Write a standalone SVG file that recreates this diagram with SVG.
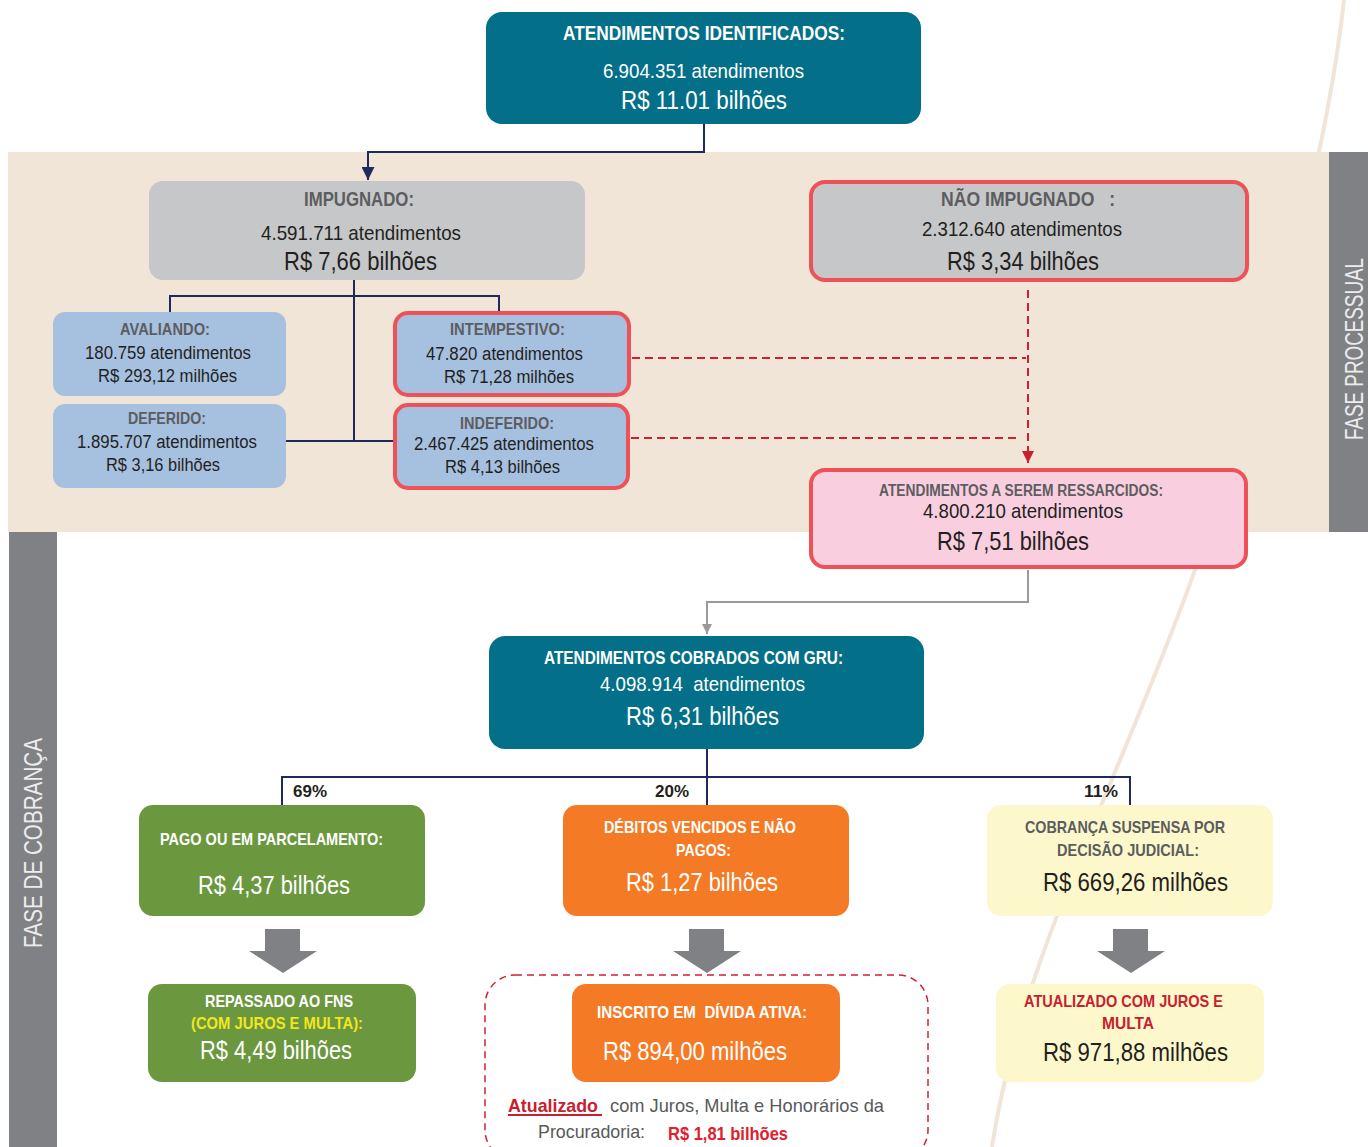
<svg xmlns="http://www.w3.org/2000/svg" width="1368" height="1147" viewBox="0 0 1368 1147">
<defs>
<style>
text{font-family:"Liberation Sans Narrow","Liberation Sans",Arial,sans-serif;}
.b{font-weight:bold;}
.w{fill:#ffffff;}
.g{fill:#5d5d5f;}
.k{fill:#231f20;}
.r{fill:#c8202f;}
.pre{white-space:pre;}
.teal{fill:#036f88;}
.gray{fill:#c6c7c9;}
.blue{fill:#a6c0e0;}
.pink{fill:#f9cfe0;}
.green{fill:#6b973f;}
.orange{fill:#f47a25;}
.yel{fill:#fcf8cc;}
.redb{stroke:#ee5258;stroke-width:4;}
.nav{fill:none;stroke:#1f2a5c;stroke-width:2;}
.dash{fill:none;stroke:#d02030;stroke-width:2;stroke-dasharray:8 5;}
.gl{fill:none;stroke:#9a9a9c;stroke-width:2;}
</style>
<marker id="aNav" viewBox="0 0 10 10" refX="10" refY="5" markerWidth="13" markerHeight="13" orient="auto" markerUnits="userSpaceOnUse"><path d="M0,0L10,5L0,10z" fill="#1f2a5c"/></marker>
<marker id="aRed" viewBox="0 0 10 10" refX="10" refY="5" markerWidth="12" markerHeight="12" orient="auto" markerUnits="userSpaceOnUse"><path d="M0,0L10,5L0,10z" fill="#c8202f"/></marker>
<marker id="aGray" viewBox="0 0 10 10" refX="10" refY="5" markerWidth="10" markerHeight="10" orient="auto" markerUnits="userSpaceOnUse"><path d="M0,0L10,5L0,10z" fill="#9a9a9c"/></marker>
<symbol id="blockArrow" viewBox="0 0 68 44"><path d="M16,0H51V22H68L34,44L0,22H16Z" fill="#808184"/></symbol>
</defs>

<rect width="1368" height="1147" fill="#ffffff"/>
<g id="background">
<path d="M1344,0 C1332,110 1290,320 1195,570 C1120,780 1020,960 992,1147" fill="none" stroke="#f1e5d8" stroke-width="4"/>
<rect x="8" y="152" width="1322" height="380" fill="#f1e5d8"/>
<rect x="1329" y="152" width="39" height="380" fill="#808184"/>
<rect x="9" y="532" width="48" height="615" fill="#808184"/>
<text transform="translate(1363,440) rotate(-90)" font-size="25" fill="#ececec" textLength="182" lengthAdjust="spacingAndGlyphs">FASE PROCESSUAL</text>
<text transform="translate(42,948) rotate(-90)" font-size="25" fill="#ececec" textLength="210" lengthAdjust="spacingAndGlyphs">FASE DE COBRANÇA</text>
</g>

<g id="connectors">
<path class="nav" d="M704,124V152H368V180" marker-end="url(#aNav)"/>
<path class="nav" d="M354,280V441M170,312V296H499V312M258,441H394"/>
<path class="dash" d="M1028,290V463" marker-end="url(#aRed)"/>
<path class="dash" d="M632,358H1026M631,438H1018"/>
<path class="gl" d="M1028,570V602H707V634" marker-end="url(#aGray)"/>
<path class="nav" d="M707,749V805M282,805V777H1130V805"/>
<use href="#blockArrow" x="249" y="929" width="68" height="44"/>
<use href="#blockArrow" x="673" y="929" width="68" height="44"/>
<use href="#blockArrow" x="1097" y="929" width="68" height="44"/>
<rect x="485" y="975" width="443" height="185" rx="30" fill="none" stroke="#d02030" stroke-width="1.5" stroke-dasharray="7 5"/>
</g>

<g id="n-identificados">
<rect class="teal" x="486" y="12" width="435" height="112" rx="16"/>
<text class="b w" x="563" y="40" font-size="21" textLength="282" lengthAdjust="spacingAndGlyphs">ATENDIMENTOS IDENTIFICADOS:</text>
<text class="w" x="603" y="78" font-size="21" textLength="201" lengthAdjust="spacingAndGlyphs">6.904.351 atendimentos</text>
<text class="w" x="621" y="109" font-size="26" textLength="166" lengthAdjust="spacingAndGlyphs">R$ 11.01 bilhões</text>
</g>

<g id="n-impugnado">
<rect class="gray" x="149" y="181" width="436" height="99" rx="14"/>
<text class="b g" x="304" y="206" font-size="20" textLength="110" lengthAdjust="spacingAndGlyphs">IMPUGNADO:</text>
<text class="k" x="261" y="240" font-size="21" textLength="200" lengthAdjust="spacingAndGlyphs">4.591.711 atendimentos</text>
<text class="k" x="284" y="270" font-size="26" textLength="153" lengthAdjust="spacingAndGlyphs">R$ 7,66 bilhões</text>
</g>

<g id="n-avaliando">
<rect class="blue" x="53" y="312" width="233" height="84" rx="12"/>
<text class="b g" x="120" y="335" font-size="17" textLength="90" lengthAdjust="spacingAndGlyphs">AVALIANDO:</text>
<text class="k" x="85" y="359" font-size="18" textLength="166" lengthAdjust="spacingAndGlyphs">180.759 atendimentos</text>
<text class="k" x="98" y="382" font-size="18" textLength="139" lengthAdjust="spacingAndGlyphs">R$ 293,12 milhões</text>
</g>

<g id="n-deferido">
<rect class="blue" x="53" y="404" width="233" height="84" rx="12"/>
<text class="b g" x="128" y="424" font-size="17" textLength="78" lengthAdjust="spacingAndGlyphs">DEFERIDO:</text>
<text class="k" x="77" y="448" font-size="18" textLength="180" lengthAdjust="spacingAndGlyphs">1.895.707 atendimentos</text>
<text class="k" x="106" y="471" font-size="18" textLength="114" lengthAdjust="spacingAndGlyphs">R$ 3,16 bilhões</text>
</g>

<g id="n-intempestivo">
<rect class="blue redb" x="395" y="313" width="234" height="82" rx="13"/>
<text class="b g" x="450" y="335" font-size="17" textLength="115" lengthAdjust="spacingAndGlyphs">INTEMPESTIVO:</text>
<text class="k" x="426" y="360" font-size="18" textLength="157" lengthAdjust="spacingAndGlyphs">47.820 atendimentos</text>
<text class="k" x="444" y="383" font-size="18" textLength="130" lengthAdjust="spacingAndGlyphs">R$ 71,28 milhões</text>
</g>

<g id="n-indeferido">
<rect class="blue redb" x="395" y="405" width="233" height="83" rx="13"/>
<text class="b g" x="460" y="429" font-size="17" textLength="94" lengthAdjust="spacingAndGlyphs">INDEFERIDO:</text>
<text class="k" x="414" y="450" font-size="18" textLength="180" lengthAdjust="spacingAndGlyphs">2.467.425 atendimentos</text>
<text class="k" x="445" y="473" font-size="18" textLength="115" lengthAdjust="spacingAndGlyphs">R$ 4,13 bilhões</text>
</g>

<g id="n-nao-impugnado">
<rect class="gray redb" x="811" y="182" width="436" height="98" rx="14"/>
<text class="b g pre" x="941" y="206" font-size="20" textLength="174" lengthAdjust="spacingAndGlyphs">NÃO IMPUGNADO   :</text>
<text class="k" x="922" y="236" font-size="21" textLength="200" lengthAdjust="spacingAndGlyphs">2.312.640 atendimentos</text>
<text class="k" x="947" y="270" font-size="26" textLength="152" lengthAdjust="spacingAndGlyphs">R$ 3,34 bilhões</text>
</g>

<g id="n-ressarcidos">
<rect class="pink redb" x="811" y="470" width="435" height="97" rx="14"/>
<text class="b g" x="879" y="496" font-size="16" textLength="284" lengthAdjust="spacingAndGlyphs">ATENDIMENTOS A SEREM RESSARCIDOS:</text>
<text class="k" x="923" y="518" font-size="21" textLength="200" lengthAdjust="spacingAndGlyphs">4.800.210 atendimentos</text>
<text class="k" x="937" y="550" font-size="26" textLength="152" lengthAdjust="spacingAndGlyphs">R$ 7,51 bilhões</text>
</g>

<g id="n-gru">
<rect class="teal" x="489" y="636" width="435" height="113" rx="16"/>
<text class="b w" x="544" y="664" font-size="19" textLength="299" lengthAdjust="spacingAndGlyphs">ATENDIMENTOS COBRADOS COM GRU:</text>
<text class="w pre" x="600" y="691" font-size="21" textLength="205" lengthAdjust="spacingAndGlyphs">4.098.914  atendimentos</text>
<text class="w" x="626" y="725" font-size="26" textLength="153" lengthAdjust="spacingAndGlyphs">R$ 6,31 bilhões</text>
</g>

<g id="labels-pct">
<text class="b k" x="293" y="797" font-size="17" textLength="34" lengthAdjust="spacingAndGlyphs">69%</text>
<text class="b k" x="655" y="797" font-size="17" textLength="34" lengthAdjust="spacingAndGlyphs">20%</text>
<text class="b k" x="1084" y="797" font-size="17" textLength="34" lengthAdjust="spacingAndGlyphs">11%</text>
</g>

<g id="n-pago">
<rect class="green" x="139" y="805" width="286" height="111" rx="14"/>
<text class="b w" x="160" y="845" font-size="17" textLength="223" lengthAdjust="spacingAndGlyphs">PAGO OU EM PARCELAMENTO:</text>
<text class="w" x="198" y="894" font-size="25" textLength="152" lengthAdjust="spacingAndGlyphs">R$ 4,37 bilhões</text>
</g>

<g id="n-debitos">
<rect class="orange" x="563" y="805" width="286" height="111" rx="14"/>
<text class="b w" x="604" y="833" font-size="17" textLength="192" lengthAdjust="spacingAndGlyphs">DÉBITOS VENCIDOS E NÃO</text>
<text class="b w" x="676" y="856" font-size="17" textLength="55" lengthAdjust="spacingAndGlyphs">PAGOS:</text>
<text class="w" x="626" y="891" font-size="25" textLength="152" lengthAdjust="spacingAndGlyphs">R$ 1,27 bilhões</text>
</g>

<g id="n-cobranca">
<rect class="yel" x="987" y="805" width="286" height="111" rx="14"/>
<text class="b g" x="1025" y="833" font-size="17" textLength="200" lengthAdjust="spacingAndGlyphs">COBRANÇA SUSPENSA POR</text>
<text class="b g" x="1057" y="856" font-size="17" textLength="142" lengthAdjust="spacingAndGlyphs">DECISÃO JUDICIAL:</text>
<text class="k" x="1043" y="891" font-size="25" textLength="185" lengthAdjust="spacingAndGlyphs">R$ 669,26 milhões</text>
</g>

<g id="n-repassado">
<rect class="green" x="148" y="984" width="268" height="98" rx="14"/>
<text class="b w" x="205" y="1007" font-size="17" textLength="148" lengthAdjust="spacingAndGlyphs">REPASSADO AO FNS</text>
<text class="b" x="191" y="1029" font-size="17" fill="#f2e620" textLength="172" lengthAdjust="spacingAndGlyphs">(COM JUROS E MULTA):</text>
<text class="w" x="200" y="1059" font-size="25" textLength="152" lengthAdjust="spacingAndGlyphs">R$ 4,49 bilhões</text>
</g>

<g id="n-inscrito">
<rect class="orange" x="572" y="984" width="268" height="98" rx="14"/>
<text class="b w pre" x="597" y="1018" font-size="17" textLength="210" lengthAdjust="spacingAndGlyphs">INSCRITO EM  DÍVIDA ATIVA:</text>
<text class="w" x="603" y="1060" font-size="25" textLength="184" lengthAdjust="spacingAndGlyphs">R$ 894,00 milhões</text>
</g>

<g id="n-atualizado-divida">
<text class="b r" x="508" y="1112" font-size="19" textLength="90" lengthAdjust="spacingAndGlyphs">Atualizado</text>
<line x1="508" y1="1115" x2="602" y2="1115" stroke="#c8202f" stroke-width="2"/>
<text x="610" y="1112" font-size="19" fill="#58595b" textLength="274" lengthAdjust="spacingAndGlyphs">com Juros, Multa e Honorários da</text>
<text x="538" y="1138" font-size="19" fill="#58595b" textLength="107" lengthAdjust="spacingAndGlyphs">Procuradoria:</text>
<text class="b" x="668" y="1140" font-size="18" fill="#e0202f" textLength="120" lengthAdjust="spacingAndGlyphs">R$ 1,81 bilhões</text>
</g>

<g id="n-atualizado-juros">
<rect class="yel" x="996" y="984" width="268" height="98" rx="14"/>
<text class="b r" x="1024" y="1007" font-size="17" textLength="199" lengthAdjust="spacingAndGlyphs">ATUALIZADO COM JUROS E</text>
<text class="b r" x="1102" y="1029" font-size="17" textLength="52" lengthAdjust="spacingAndGlyphs">MULTA</text>
<text class="k" x="1043" y="1061" font-size="25" textLength="185" lengthAdjust="spacingAndGlyphs">R$ 971,88 milhões</text>
</g>
</svg>
